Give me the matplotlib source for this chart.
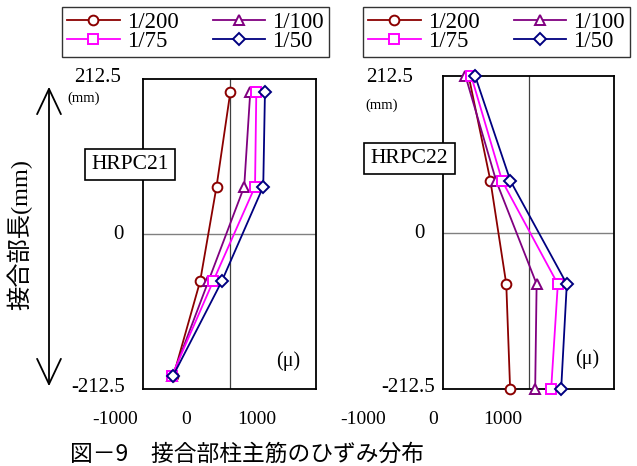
import matplotlib
matplotlib.use("Agg")
import matplotlib.pyplot as plt
from matplotlib.patches import FancyArrowPatch
from matplotlib.lines import Line2D

W, H = 637, 466
plt.rcParams['font.family'] = ['Liberation Serif', 'DejaVu Serif']

series = ["1/200", "1/100", "1/75", "1/50"]
colors = ["#8B0000", "#800080", "#FF00FF", "#000080"]
markers = ["o", "^", "s", "D"]

y_left = [195, 65, -65, -195]
x_left = {
    "1/200": [10, -150, -340, -650],
    "1/100": [240, 170, -245, -660],
    "1/75": [310, 295, -190, -668],
    "1/50": [410, 390, -90, -655],
}
y_right = [212.5, 70, -70, -212.5]
x_right = {
    "1/200": [-700, -445, -260, -215],
    "1/100": [-737, -378, 95, 78],
    "1/75": [-670, -308, 343, 265],
    "1/50": [-624, -211, 448, 382],
}
x_tick_labels = ["-1000", "0", "1000"]
y_tick_labels = ["212.5", "0", "-212.5"]

fig = plt.figure(figsize=(W / 100, H / 100), dpi=100)


def px(x, y):
    return x / W, 1 - y / H


def make_axes(rect_px, xs, ys):
    l, t, r, b = rect_px
    ax = fig.add_axes([l / W, 1 - b / H, (r - l) / W, (b - t) / H])
    ax.set_xlim(-1000, 1000)
    ax.set_ylim(-212.5, 212.5)
    ax.axhline(0, color="#808080", lw=1.0, zorder=1)
    ax.axvline(0, color="#404040", lw=0.9, zorder=1)
    for s, c, m in zip(series, colors, markers):
        ms = 7 if m != "D" else 6
        ax.plot(xs[s], ys, color=c, marker=m, mfc="white", mec=c, mew=1.4,
                ms=ms, lw=1.3, clip_on=False, zorder=3)
    ax.set_xticks([])
    ax.set_yticks([])
    for sp in ax.spines.values():
        sp.set_linewidth(1.3)
        sp.set_color("black")
    return ax


axL = make_axes((143, 79, 316, 389), x_left, y_left)
axR = make_axes((443, 76, 614, 389), x_right, y_right)

# Legends
handles = [Line2D([], [], color=c, marker=m, mfc="white", mec=c, mew=1.4,
                  ms=(7 if m != "D" else 6), lw=1.3)
           for c, m in zip(colors, markers)]
order = [0, 2, 1, 3]
for lx in (62, 363):
    leg = fig.legend([handles[i] for i in order], [series[i] for i in order],
                     ncol=2, loc="upper left", bbox_to_anchor=px(lx, 7),
                     frameon=True, fancybox=False, edgecolor="black",
                     fontsize=16.5, handlelength=2.3, handletextpad=0.3,
                     columnspacing=1.5, labelspacing=-0.08, borderpad=0.22,
                     borderaxespad=0)
    leg.get_frame().set_linewidth(1.0)

# tick labels (as placed in the original figure)
for xs_px in ([115, 186, 257], [363, 433, 503]):
    for xp, lb in zip(xs_px, x_tick_labels):
        fig.text(*px(xp, 420), lb, ha="center", va="center", fontsize=14)

for (xp, yp), lb in zip([(121, 78), (124, 234), (125, 388)], y_tick_labels):
    fig.text(*px(xp, yp), lb, ha="right", va="center", fontsize=15)
for (xp, yp), lb in zip([(413, 77), (425, 233), (435, 388)], y_tick_labels):
    fig.text(*px(xp, yp), lb, ha="right", va="center", fontsize=15)

fig.text(*px(67, 98), "(mm)", ha="left", va="center", fontsize=10.5)
fig.text(*px(365, 105), "(mm)", ha="left", va="center", fontsize=10.5)
fig.text(*px(288, 361), "(μ)", ha="center", va="center", fontsize=14.5)
fig.text(*px(587, 359), "(μ)", ha="center", va="center", fontsize=14.5)

for (cx, cy), lab in (((130, 164.5), "HRPC21"), ((409.5, 158.5), "HRPC22")):
    fig.text(*px(cx, cy), lab, ha="center", va="center", fontsize=15.5,
             bbox=dict(boxstyle="square,pad=0.3", fc="white", ec="black", lw=1.2))

# double-headed arrow
arr = FancyArrowPatch(px(49, 84), px(49, 389), transform=fig.transFigure,
                      arrowstyle="<->,head_length=7,head_width=3.3",
                      color="black", lw=1.3, mutation_scale=2.6)
fig.add_artist(arr)

fig.text(*px(20, 235), "接合部長(mm)", rotation=90, ha="center", va="center",
         fontsize=17.5, family=["Liberation Serif", "Noto Sans CJK JP"])

fig.text(*px(247, 454), "図－9　接合部柱主筋のひずみ分布", ha="center", va="center",
         fontsize=16.4, family=["Noto Sans CJK JP", "DejaVu Sans"])

fig.savefig("out.png", dpi=100)
